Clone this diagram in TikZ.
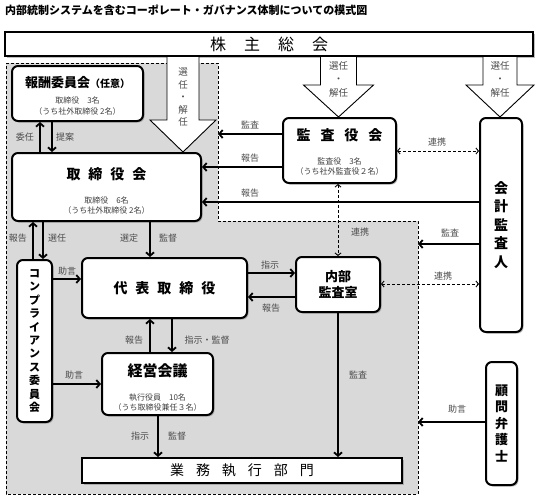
\documentclass[tikz,border=0pt]{standalone}
\usepackage{fontspec}
\setmainfont{Noto Sans CJK JP}
\usepackage{tikz}
\usetikzlibrary{arrows.meta}
\usetikzlibrary{shadows}

\newcommand{\boxttl}{\fontsize{14}{17}\selectfont\bfseries}
\newcommand{\boxsub}{\fontsize{8}{10}\selectfont}
\newcommand{\arrlab}{\fontsize{9}{11}\selectfont}

\begin{document}
\begin{tikzpicture}[x=1pt,y=-1pt]
    \tikzstyle{every node}=[inner sep=0pt]
    \tikzstyle{wbox}=[draw=black,line width=2pt,fill=white,rounded corners=6pt,align=center,
                      drop shadow={shadow xshift=1.5pt,shadow yshift=-1.5pt,opacity=0.5}]
    \tikzstyle{wbar}=[draw=black,line width=2pt,fill=white,
                      drop shadow={shadow xshift=1.5pt,shadow yshift=-1.5pt,opacity=0.5}]
    \tikzstyle{lab}=[font=\arrlab,text=black!70]
    \tikzstyle{arr}=[line width=1.8pt,-{Straight Barb[length=3.5pt,width=8pt]}]
    \tikzstyle{link}=[densely dashed,line width=0.9pt,
                      {Straight Barb[length=2.5pt,width=6pt]}-{Straight Barb[length=2.5pt,width=6pt]}]

    \useasboundingbox (0,0) rectangle (540,499);

    \node[anchor=west,font=\fontsize{11}{13}\selectfont\bfseries] (title) at (5,10)
        {内部統制システムを含むコーポレート・ガバナンス体制についての模式図};

    % inside of the company
    \draw[densely dashed,line width=0.6pt,fill=black!15] (6,63) -- (218,63) -- (218,221)
        -- (418,221) -- (418,494) -- (6,494) -- cycle;

    \node[wbar,minimum width=528,minimum height=24,font=\fontsize{16}{18}\selectfont] (kabu) at (269,44)
        {株\hspace{18pt}主\hspace{18pt}総\hspace{18pt}会};

    \node[wbox,minimum width=131,minimum height=55,font=\boxsub] (houshu) at (77.5,93.5)
        {\rule{0pt}{16pt}{\fontsize{13}{15}\selectfont\bfseries 報酬委員会}{\fontsize{10}{12}\selectfont\bfseries （任意）}\\[6pt]
         \textcolor{black!75}{取締役　3名}\\[1pt]\textcolor{black!75}{（うち社外取締役 2名）}};

    \node[wbox,minimum width=189,minimum height=68,font=\boxsub] (torishimari) at (106.5,187)
        {\rule{0pt}{20pt}{\boxttl 取\hspace{8pt}締\hspace{8pt}役\hspace{8pt}会}\\[14pt]
         \textcolor{black!75}{取締役　6名}\\\textcolor{black!75}{（うち社外取締役 2名）}};

    \node[wbox,minimum width=113,minimum height=65,font=\boxsub] (kansa) at (339.5,150.5)
        {\rule{0pt}{14pt}{\boxttl 監\hspace{10pt}査\hspace{10pt}役\hspace{10pt}会}\\[14pt]
         \textcolor{black!75}{監査役　3名}\\\textcolor{black!75}{（うち社外監査役２名）}};

    \node[wbox,minimum width=42,minimum height=214,font=\fontsize{14}{18.5}\selectfont\bfseries] (kaikei) at (501,225)
        {会\\計\\監\\査\\人};

    \node[wbox,minimum width=165,minimum height=60,font=\boxttl] (daihyo) at (164.5,288)
        {代\hspace{8pt}表\hspace{8pt}取\hspace{8pt}締\hspace{8pt}役};

    \node[wbox,minimum width=84,minimum height=55,font=\fontsize{13}{16}\selectfont\bfseries] (naibu) at (338,284.5)
        {内部\\監査室};

    \node[wbox,minimum width=35,minimum height=162,font=\fontsize{11}{13.4}\selectfont\bfseries] (comp) at (34.5,341)
        {コ\\ン\\プ\\ラ\\イ\\ア\\ン\\ス\\委\\員\\会};

    \node[wbox,minimum width=111,minimum height=62,font=\boxsub] (keiei) at (157.5,384)
        {\rule{0pt}{19pt}{\fontsize{15}{17}\selectfont\bfseries 経営会議}\\[14pt]
         \textcolor{black!75}{執行役員　10名}\\\textcolor{black!75}{（うち取締役兼任３名）}};

    \node[wbar,minimum width=320,minimum height=25,font=\fontsize{14}{16}\selectfont] (gyomu) at (242,470.5)
        {業\hspace{12pt}務\hspace{12pt}執\hspace{12pt}行\hspace{12pt}部\hspace{12pt}門};

    \node[wbox,minimum width=31,minimum height=123,font=\fontsize{13}{16.5}\selectfont\bfseries] (komon) at (501.5,423.5)
        {顧\\問\\弁\\護\\士};

    % appointment arrows from the shareholders
    \newcommand{\selarrow}[5]{%
      \draw[line width=0.9pt,fill=white] (#1-#2,0 |- kabu.south) -- (#1-#2,#4) -- (#1-#3,#4)
          -- (#1,0 |- #5.north) -- (#1+#3,#4) -- (#1+#2,#4) -- (#1+#2,0 |- kabu.south) ;}

    \selarrow{183}{16}{33}{120}{torishimari}
    \selarrow{338.5}{18}{35}{85}{kansa}
    \selarrow{500}{17}{34}{85}{kaikei}

    \node[lab,align=center,font=\fontsize{9.5}{12.5}\selectfont] (t-sel1) at (183,97) {選\\任\\・\\解\\任};
    \node[lab,align=center,font=\fontsize{9.5}{13.5}\selectfont] (t-sel2) at (338.5,79) {選任\\・\\解任};
    \node[lab,align=center,font=\fontsize{9.5}{13.5}\selectfont] (t-sel3) at (500,79) {選任\\・\\解任};

    % board and committees
    \draw[arr] (torishimari.north -| 40,0) -- (houshu.south -| 40,0) ;
    \draw[arr] (houshu.south -| 52,0) -- (torishimari.north -| 52,0) ;
    \node[lab] (l-inin) at (25,137) {委任};
    \node[lab] (l-teian) at (65,137) {提案};

    \draw[arr] (comp.north -| 33,0) -- (torishimari.south -| 33,0) ;
    \draw[arr] (torishimari.south -| 43,0) -- (comp.north -| 43,0) ;
    \node[lab] (l-hok1) at (18,238) {報告};
    \node[lab] (l-sen1) at (57,238) {選任};

    \draw[arr] (torishimari.south -| 150,0) -- (daihyo.north -| 150,0) ;
    \node[lab] (l-sentei) at (129,238) {選定};
    \node[lab] (l-kan1) at (168,238) {監督};

    \draw[arr] (comp.east |- 0,279) -- (daihyo.west |- 0,279) ;
    \node[lab] (l-jog1) at (67,271) {助言};
    \draw[arr] (comp.east |- 0,384) -- (keiei.west |- 0,384) ;
    \node[lab] (l-jog2) at (74,375) {助言};

    \draw[arr] (keiei.north -| 150,0) -- (daihyo.south -| 150,0) ;
    \draw[arr] (daihyo.south -| 172,0) -- (keiei.north -| 172,0) ;
    \node[lab] (l-hok2) at (134,340) {報告};
    \node[lab] (l-shiji1) at (207,340) {指示・監督};

    \draw[arr] (keiei.south -| 158,0) -- (gyomu.north -| 158,0) ;
    \node[lab] (l-shiji2) at (140,436) {指示};
    \node[lab] (l-kan2) at (177,436) {監督};

    % auditors
    \coordinate (g-kansa) at (218,134) ;
    \draw[arr] (kansa.west |- g-kansa) -- (g-kansa) ;
    \node[lab] (l-ks1) at (250,125) {監査};
    \draw[arr] (kansa.west |- 0,167) -- (torishimari.east |- 0,167) ;
    \node[lab] (l-hok3) at (250,158) {報告};
    \draw[arr] (kaikei.west |- 0,202) -- (torishimari.east |- 0,202) ;
    \node[lab] (l-hok4) at (250,193) {報告};

    \draw[link] (kansa.east |- 0,151) -- (kaikei.west |- 0,151) ;
    \node[lab] (l-ren1) at (437,142) {連携};
    \draw[link] (kansa.south -| 338,0) -- (naibu.north -| 338,0) ;
    \node[lab] (l-ren2) at (360,232) {連携};

    \coordinate (g-kaikei) at (418,244) ;
    \draw[arr] (kaikei.west |- g-kaikei) -- (g-kaikei) ;
    \node[lab] (l-ks2) at (450,233) {監査};

    \draw[arr] (daihyo.east |- 0,273) -- (naibu.west |- 0,273) ;
    \node[lab] (l-shiji3) at (270,265) {指示};
    \draw[arr] (naibu.west |- 0,297) -- (daihyo.east |- 0,297) ;
    \node[lab] (l-hok5) at (271,308) {報告};

    \draw[link] (naibu.east |- 0,284) -- (kaikei.west |- 0,284) ;
    \node[lab] (l-ren3) at (443,276) {連携};

    \draw[arr] (naibu.south) -- (gyomu.north -| naibu.south) ;
    \node[lab] (l-ks3) at (358,375) {監査};

    \coordinate (g-komon) at (418,422) ;
    \draw[arr] (komon.west |- g-komon) -- (g-komon) ;
    \node[lab] (l-jog3) at (457,409) {助言};

\end{tikzpicture}
\end{document}
